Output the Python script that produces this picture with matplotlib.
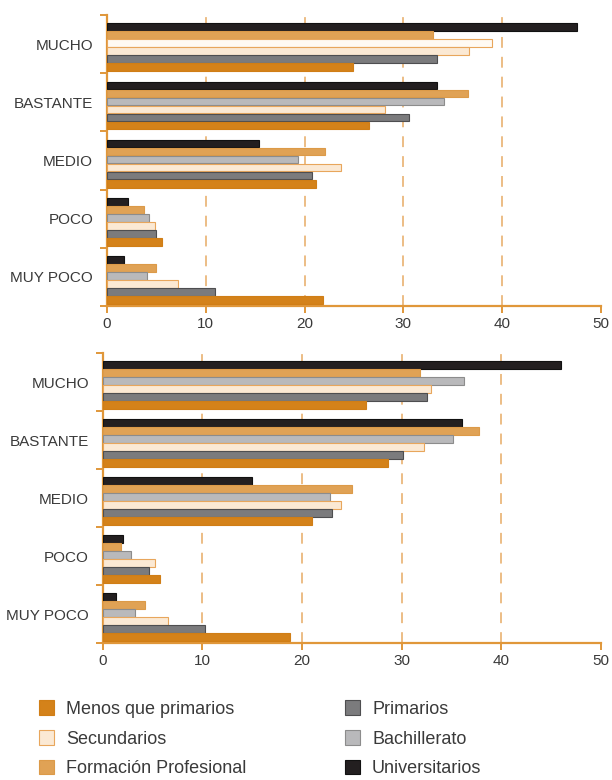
import numpy as np
import matplotlib.pyplot as plt
from matplotlib.patches import Patch

plt.rcParams["font.family"] = ["Liberation Sans", "DejaVu Sans"]

categories = ["MUCHO", "BASTANTE", "MEDIO", "POCO", "MUY POCO"]
x_ticks = [0, 10, 20, 30, 40, 50]

# gráfico superior
menos_top = [24.9, 26.5, 21.2, 5.6, 21.9]
prim_top = [33.4, 30.6, 20.7, 5.0, 10.9]
sec_top = [36.6, 28.1, 23.7, 4.8, 7.2]
bach_top = [39.0, 34.1, 19.3, 4.2, 4.0]
fp_top = [33.0, 36.5, 22.1, 3.7, 5.0]
univ_top = [47.6, 33.4, 15.4, 2.15, 1.7]

# gráfico inferior
menos_bot = [26.4, 28.6, 21.0, 5.7, 18.8]
prim_bot = [32.5, 30.1, 23.0, 4.6, 10.3]
sec_bot = [32.9, 32.2, 23.9, 5.2, 6.5]
bach_bot = [36.3, 35.2, 22.8, 2.85, 3.25]
fp_bot = [31.8, 37.8, 25.0, 1.8, 4.2]
univ_bot = [46.0, 36.1, 15.0, 2.0, 1.35]

ORANGE_AX = "#e0973a"
GRID = "#ebb77c"
TEXT = "#3a3a3a"

# face, edge  (draw order from top of each group)
styles = {
    "Universitarios": ("#231f20", "#111111"),
    "Formación Profesional": ("#e0a255", "#dc9a48"),
    "Bachillerato": ("#b9b9bb", "#8c8c8c"),
    "Secundarios": ("#fbe9d4", "#e8a65c"),
    "Primarios": ("#7b7b7d", "#4e4e50"),
    "Menos que primarios": ("#d4821a", "#d07e16"),
}
draw_order = ["Universitarios", "Formación Profesional", "Bachillerato",
              "Secundarios", "Primarios", "Menos que primarios"]


def draw_panel(ax, data):
    n = len(categories)
    bh = 0.138
    y0 = np.arange(n)
    bars = {}
    for j, name in enumerate(draw_order):
        face, edge = styles[name]
        ys = y0 + 0.14 + bh * (j + 0.5)
        bars[name] = ax.barh(ys, data[name], height=bh * 0.95, color=face,
                             edgecolor=edge, linewidth=0.8, zorder=3)
    ax.set_ylim(n, 0)
    ax.set_xlim(0, 50.6)
    for s in ["top", "right"]:
        ax.spines[s].set_visible(False)
    for s in ["left", "bottom"]:
        ax.spines[s].set_color(ORANGE_AX)
        ax.spines[s].set_linewidth(1.6)
    ax.spines["bottom"].set_bounds(0, 50)
    ax.set_xticks(x_ticks)
    ax.set_xticklabels([str(t) for t in x_ticks])
    ax.tick_params(axis="x", colors=ORANGE_AX, labelcolor=TEXT,
                   labelsize=11, length=5, width=1.4, pad=3)
    ax.set_yticks(np.arange(n + 1))
    ax.set_yticklabels([])
    ax.tick_params(axis="y", which="major", colors=ORANGE_AX,
                   length=5, width=1.4)
    ax.set_yticks(y0 + 0.5, minor=True)
    ax.set_yticklabels(categories, minor=True)
    ax.tick_params(axis="y", which="minor", length=0, pad=10,
                   labelsize=11, labelcolor=TEXT)
    for t in x_ticks[1:-1]:
        ax.axvline(t, color=GRID, linewidth=1.3, linestyle=(0, (6, 5)),
                   zorder=1)
    return bars


fig = plt.figure(figsize=(6.12, 7.8), dpi=100)
ax1 = fig.add_axes([0.175, 0.6077, 0.8166, 0.3731])
ax2 = fig.add_axes([0.168, 0.1756, 0.8237, 0.3718])

bars_top = draw_panel(ax1, {
    "Menos que primarios": menos_top, "Primarios": prim_top,
    "Secundarios": sec_top, "Bachillerato": bach_top,
    "Formación Profesional": fp_top, "Universitarios": univ_top,
})
# en el original la barra de Bachillerato en MUCHO aparece sin relleno
bars_top["Bachillerato"][0].set_facecolor("#fffaf3")
bars_top["Bachillerato"][0].set_edgecolor("#e8a65c")

draw_panel(ax2, {
    "Menos que primarios": menos_bot, "Primarios": prim_bot,
    "Secundarios": sec_bot, "Bachillerato": bach_bot,
    "Formación Profesional": fp_bot, "Universitarios": univ_bot,
})

col1 = ["Menos que primarios", "Secundarios", "Formación Profesional"]
col2 = ["Primarios", "Bachillerato", "Universitarios"]
for names, xpos in [(col1, 0.049), (col2, 0.549)]:
    handles = [Patch(facecolor=styles[nm][0], edgecolor=styles[nm][1],
                     linewidth=0.8) for nm in names]
    fig.legend(handles, names, loc="upper left",
               bbox_to_anchor=(xpos, 0.1135), frameon=False,
               fontsize=13, handlelength=0.85, handleheight=0.85,
               handletextpad=0.65, labelspacing=0.68, borderpad=0,
               labelcolor=TEXT)

fig.savefig("out.png", dpi=100)
